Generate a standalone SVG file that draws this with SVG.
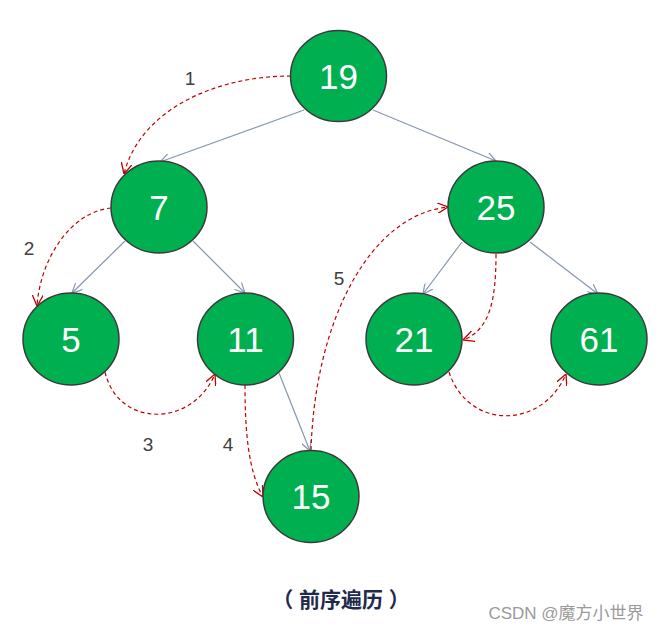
<svg xmlns="http://www.w3.org/2000/svg" width="667" height="633" viewBox="0 0 667 633">
<defs>
<style>
.node ellipse{fill:#00b050;stroke:#3a3a3a;stroke-width:1.5}
.node text{fill:#fff;font-family:"Liberation Sans",Arial,sans-serif;font-size:35px;text-anchor:middle}
.edge{fill:none;stroke:#8497b0;stroke-width:1.2;marker-end:url(#ga)}
.trav{fill:none;stroke:#c00000;stroke-width:1.2;stroke-dasharray:4 3;marker-end:url(#ra)}
.lbl{fill:#404040;font-family:"Liberation Sans",Arial,sans-serif;font-size:19px;text-anchor:middle}
</style>
<marker id="ga" viewBox="0 0 10 10" refX="10" refY="5" markerWidth="10" markerHeight="10" markerUnits="userSpaceOnUse" orient="auto"><path d="M0,0 L10,5 L0,10" fill="none" stroke="#8497b0" stroke-width="1.2"/></marker>
<marker id="ra" viewBox="0 0 10 10" refX="10" refY="5" markerWidth="11" markerHeight="11" markerUnits="userSpaceOnUse" orient="auto"><path d="M0,0 L10,5 L0,10" fill="none" stroke="#c00000" stroke-width="1.2"/></marker>
</defs>
<rect width="667" height="633" fill="#fff"/>
<g id="connectors">
<line class="edge" x1="304" y1="110" x2="160" y2="162"/>
<line class="edge" x1="373" y1="110" x2="496" y2="161"/>
<line class="edge" x1="125" y1="241" x2="72" y2="293"/>
<line class="edge" x1="193" y1="241" x2="245" y2="293"/>
<line class="edge" x1="462" y1="242" x2="423" y2="294"/>
<line class="edge" x1="530" y1="242" x2="598" y2="294"/>
<line class="edge" x1="279" y1="373" x2="310" y2="451"/>
<path class="trav" d="M291,76 C215,76 140,110 124,174"/>
<path class="trav" d="M111,208 C70,212 40,260 37,306"/>
<path class="trav" d="M105,372 C118,428 192,428 215,374"/>
<path class="trav" d="M245,385 C245,430 248,470 263,497"/>
<path class="trav" d="M311,450 C315,320 370,215 448,207"/>
<path class="trav" d="M496,254 C496,300 490,330 463,340"/>
<path class="trav" d="M449,372 C468,430 542,430 566,374"/>
</g>
<g id="labels">
<text class="lbl" x="190" y="85">1</text>
<text class="lbl" x="29" y="255">2</text>
<text class="lbl" x="148" y="451">3</text>
<text class="lbl" x="228" y="451">4</text>
<text class="lbl" x="339" y="285">5</text>
</g>
<g id="n19" class="node"><ellipse cx="338.5" cy="76" rx="48" ry="45.5"/><text x="338.5" y="88.5">19</text></g>
<g id="n7" class="node"><ellipse cx="159" cy="207" rx="48" ry="46"/><text x="159" y="219.5">7</text></g>
<g id="n25" class="node"><ellipse cx="496" cy="207" rx="48" ry="46"/><text x="496" y="219.5">25</text></g>
<g id="n5" class="node"><ellipse cx="71" cy="339" rx="48" ry="46"/><text x="71" y="351.5">5</text></g>
<g id="n11" class="node"><ellipse cx="245.5" cy="339" rx="48" ry="46"/><text x="245.5" y="351.5">11</text></g>
<g id="n21" class="node"><ellipse cx="414" cy="339" rx="48" ry="46"/><text x="414" y="351.5">21</text></g>
<g id="n61" class="node"><ellipse cx="599" cy="339" rx="48" ry="46"/><text x="599" y="351.5">61</text></g>
<g id="n15" class="node"><ellipse cx="311" cy="496.5" rx="48" ry="46"/><text x="311" y="509">15</text></g>
<text x="341" y="607" fill="#1f2a4d" font-family="'Liberation Sans','Noto Sans CJK SC',sans-serif" font-size="21" font-weight="bold" text-anchor="middle">（ 前序遍历 ）</text>
<text x="566" y="619" fill="#9a9a9a" font-family="'Liberation Sans','Noto Sans CJK SC',sans-serif" font-size="17" text-anchor="middle">CSDN @魔方小世界</text>
</svg>
